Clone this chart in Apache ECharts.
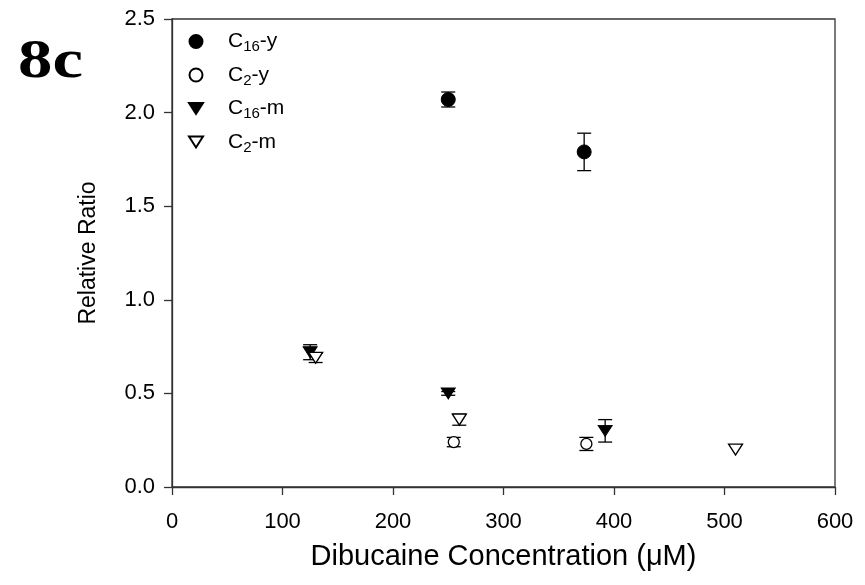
<!DOCTYPE html>
<html>
<head>
<meta charset="utf-8">
<script src="https://cdn.jsdelivr.net/npm/echarts@6/dist/echarts.min.js"></script>
<style>
  html, body { margin: 0; padding: 0; background: #fff; }
  #chart { width: 865px; height: 585px; }
</style>
</head>
<body>
<div id="chart"></div>
<script>
// Dibucaine concentration (µM) vs relative ratio, with standard-error bars
const c16yX = [250, 373];
const c16yY = [2.07, 1.79];
const c16yErr = [0.04, 0.10];

const c2yX = [255, 375];
const c2yY = [0.24, 0.23];
const c2yErr = [0.025, 0.035];

const c16mX = [125, 250, 392];
const c16mY = [0.72, 0.50, 0.30];
const c16mErr = [0.04, 0.01, 0.06];

const c2mX = [130, 260, 510];
const c2mY = [0.69, 0.36, 0.20];
const c2mErr = [0.025, 0.03, 0];

const seriesNames = ['C16-y', 'C2-y', 'C16-m', 'C2-m'];
const legendRich = {
  'C16-y': '{a|C}{s|16}{a|-y}',
  'C2-y': '{a|C}{s|2}{a|-y}',
  'C16-m': '{a|C}{s|16}{a|-m}',
  'C2-m': '{a|C}{s|2}{a|-m}'
};

const xTicks = [0, 100, 200, 300, 400, 500, 600];
const yTicks = [0.0, 0.5, 1.0, 1.5, 2.0, 2.5];

const FONT = 'Liberation Sans, Arial, sans-serif';
const DOWN_TRIANGLE = 'path://M0,0L14,0L7,11Z';

function pts(xs, ys) { return xs.map((x, i) => [x, ys[i]]); }
function errPts(xs, ys, es) { return xs.map((x, i) => [x, ys[i], es[i]]); }

function errorBarSeries(data) {
  return {
    type: 'custom',
    silent: true,
    z: 1,
    data: data,
    renderItem: function (params, api) {
      const x = api.value(0), y = api.value(1), e = api.value(2);
      if (!e) return null;
      const hi = api.coord([x, y + e]);
      const lo = api.coord([x, y - e]);
      const w = 7;
      const style = { stroke: '#000', lineWidth: 1.3 };
      return {
        type: 'group',
        children: [
          { type: 'line', shape: { x1: hi[0], y1: hi[1], x2: lo[0], y2: lo[1] }, style: style },
          { type: 'line', shape: { x1: hi[0] - w, y1: hi[1], x2: hi[0] + w, y2: hi[1] }, style: style },
          { type: 'line', shape: { x1: lo[0] - w, y1: lo[1], x2: lo[0] + w, y2: lo[1] }, style: style }
        ]
      };
    }
  };
}

const chart = echarts.init(document.getElementById('chart'), null, { renderer: 'canvas' });

chart.setOption({
  animation: false,
  backgroundColor: '#fff',
  textStyle: { fontFamily: FONT },
  grid: {
    left: 172, right: 30, top: 19, bottom: 98,
    show: true, borderColor: '#333', borderWidth: 1.3, backgroundColor: 'transparent'
  },
  graphic: [{
    type: 'text', left: 18, top: 35, scaleX: 1.25,
    style: { text: '8c', font: 'bold 55px "Liberation Serif", "Times New Roman", serif', fill: '#000' }
  }],
  legend: {
    orient: 'vertical',
    left: 183, top: 26,
    itemWidth: 14, itemHeight: 13,
    itemGap: 10,
    data: [
      { name: 'C16-y' },
      { name: 'C2-y' },
      { name: 'C16-m', icon: DOWN_TRIANGLE },
      { name: 'C2-m', icon: DOWN_TRIANGLE }
    ],
    formatter: function (name) { return legendRich[name]; },
    textStyle: {
      padding: [0, 0, 0, 20],
      rich: {
        a: { fontSize: 21, fontFamily: FONT, color: '#000' },
        s: { fontSize: 15, fontFamily: FONT, color: '#000', padding: [11, 0, 0, 0] }
      }
    }
  },
  xAxis: {
    type: 'value', min: 0, max: 600, interval: 100,
    name: 'Dibucaine Concentration (\u03bcM)',
    nameLocation: 'middle', nameGap: 55,
    nameTextStyle: { fontSize: 29, color: '#000', fontFamily: FONT },
    axisLine: { onZero: false, lineStyle: { color: '#333', width: 1.3 } },
    axisTick: { show: true, inside: false, length: 8, lineStyle: { color: '#333', width: 1.3 } },
    axisLabel: {
      margin: 24, fontSize: 22, color: '#000', fontFamily: FONT,
      customValues: xTicks, formatter: v => String(v)
    },
    splitLine: { show: false }
  },
  yAxis: {
    type: 'value', min: 0, max: 2.5, interval: 0.5,
    name: 'Relative Ratio',
    nameLocation: 'middle', nameGap: 72,
    nameTextStyle: { fontSize: 23, color: '#000', fontFamily: FONT },
    axisLine: { onZero: false, lineStyle: { color: '#333', width: 1.3 } },
    axisTick: { show: true, inside: false, length: 8, lineStyle: { color: '#333', width: 1.3 } },
    axisLabel: {
      margin: 17, fontSize: 22, color: '#000', fontFamily: FONT,
      customValues: yTicks, formatter: v => v.toFixed(1)
    },
    splitLine: { show: false }
  },
  series: [
    errorBarSeries(errPts(c16yX, c16yY, c16yErr)),
    errorBarSeries(errPts(c2yX, c2yY, c2yErr)),
    errorBarSeries(errPts(c16mX, c16mY, c16mErr)),
    errorBarSeries(errPts(c2mX, c2mY, c2mErr)),
    {
      name: 'C16-y', type: 'scatter', z: 3,
      data: pts(c16yX, c16yY),
      symbol: 'circle', symbolSize: 14,
      itemStyle: { color: '#000', borderColor: '#000', borderWidth: 1, opacity: 1 }
    },
    {
      name: 'C2-y', type: 'scatter', z: 3,
      data: pts(c2yX, c2yY),
      symbol: 'circle', symbolSize: 11,
      itemStyle: { color: '#fff', borderColor: '#000', borderWidth: 1.3, opacity: 1 }
    },
    {
      name: 'C16-m', type: 'scatter', z: 3,
      data: pts(c16mX, c16mY),
      symbol: 'triangle', symbolRotate: 180, symbolSize: [14, 11],
      itemStyle: { color: '#000', borderColor: '#000', borderWidth: 1, opacity: 1 }
    },
    {
      name: 'C2-m', type: 'scatter', z: 3,
      data: pts(c2mX, c2mY),
      symbol: 'triangle', symbolRotate: 180, symbolSize: [14, 11],
      itemStyle: { color: '#fff', borderColor: '#000', borderWidth: 1.3, opacity: 1 }
    }
  ]
});
</script>
</body>
</html>
